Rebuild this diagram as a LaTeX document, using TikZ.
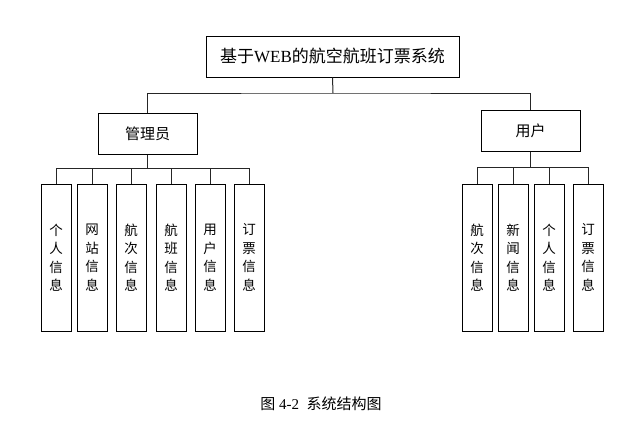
\documentclass[tikz,border=0pt]{standalone}
\usepackage{fontspec}
\setmainfont{Liberation Serif}
\newfontfamily\cjk{Noto Sans CJK SC}
\tikzset{
  box/.style={draw=black, line width=1pt, inner sep=0pt, anchor=center},
  topbox/.style={box, minimum width=253pt, minimum height=41pt, font=\fontsize{17}{20}\selectfont},
  midbox/.style={box, minimum width=99pt, minimum height=41pt, font=\cjk\fontsize{15}{18}\selectfont},
  leafbox/.style={box, minimum width=30pt, minimum height=147pt, align=center, font=\cjk\fontsize{13.5}{18.5}\selectfont},
  conn/.style={draw=black!85, line width=1pt}
}
\begin{document}
\begin{tikzpicture}[x=1pt,y=-1pt]
\useasboundingbox (0,0) rectangle (638,434);
\node[topbox] (t) at (332.5,56.5) {{\cjk 基于}WEB{\cjk 的航空航班订票系统}};
\node[midbox] (a) at (147.5,133.5) {管理员};
\node[midbox] (u) at (530.5,130.5) {用户};
\coordinate (j) at (333,93);
\draw[conn] (t.south) -- (j);
\draw[conn] (a.north) |- (j) -| (u.north);
% admin children
\node[leafbox] (a1) at (56,257.5) {个\\人\\信\\息};
\node[leafbox] (a2) at (92,257.5) {网\\站\\信\\息};
\node[leafbox] (a3) at (131,257.5) {航\\次\\信\\息};
\node[leafbox] (a4) at (171,257.5) {航\\班\\信\\息};
\node[leafbox] (a5) at (210,257.5) {用\\户\\信\\息};
\node[leafbox] (a6) at (249,257.5) {订\\票\\信\\息};
\coordinate (ja) at (147.5,168);
\draw[conn] (a.south) -- (ja);
\foreach \c in {a1,a2,a3,a4,a5,a6} \draw[conn] (ja) -| (\c.north);
% user children
\node[leafbox] (u1) at (477,257.5) {航\\次\\信\\息};
\node[leafbox] (u2) at (513,257.5) {新\\闻\\信\\息};
\node[leafbox] (u3) at (549,257.5) {个\\人\\信\\息};
\node[leafbox] (u4) at (588,257.5) {订\\票\\信\\息};
\coordinate (ju) at (530.5,167);
\draw[conn] (u.south) -- (ju);
\foreach \c in {u1,u2,u3,u4} \draw[conn] (ju) -| (\c.north);
\node[font=\fontsize{15}{18}\selectfont] (cap) at (321,404) {{\cjk 图} 4-2\ \ {\cjk 系统结构图}};
\end{tikzpicture}
\end{document}
